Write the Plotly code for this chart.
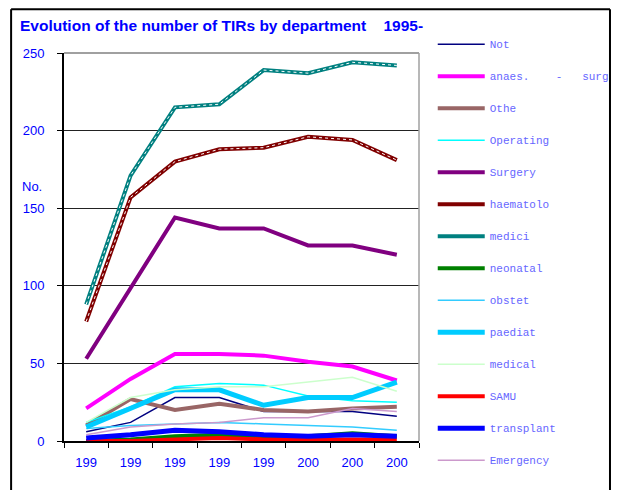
import plotly.graph_objects as go

years = ["1995", "1996", "1997", "1998", "1999", "2000", "2001", "2002"]
tick_text = ["199", "199", "199", "199", "199", "200", "200", "200"]

not_dept = [6, 12, 28, 28, 19, 19, 19, 16]
anaes_surg = [21, 40, 56, 56, 55, 51, 48, 39]
other = [10, 27, 20, 24, 20, 19, 21, 22]
operating_theatre = [12, 22, 35, 37, 36, 29, 26, 25]
surgery_transplant = [53, 99, 144, 137, 137, 126, 126, 120]
haematology = [77, 157, 180, 188, 189, 196, 194, 181]
medicine = [88, 171, 215, 217, 239, 237, 244, 242]
neonatal = [0, 1, 3, 4, 3, 3, 5, 3]
obstetrics = [8, 10, 11, 12, 11, 10, 9, 7]
paediatrics = [9, 21, 33, 33, 23, 28, 28, 38]
medical_icu = [12, 28, 33, 35, 35, 38, 41, 32]
samu = [0, 0, 1, 2, 1, 1, 1, 1]
transplant = [2, 4, 7, 6, 4, 3, 4, 3]
emergency = [4, 9, 11, 12, 15, 15, 21, 19]

sp = "\u00a0"
series = [
    ("Not", not_dept, "#000080", 1.5),
    ("anaes." + sp * 4 + "-" + sp * 3 + "surg", anaes_surg, "#FF00FF", 4),
    ("Othe", other, "#996666", 4),
    ("Operating", operating_theatre, "#00FFFF", 1.5),
    ("Surgery", surgery_transplant, "#800080", 4),
    ("haematolo", haematology, "#800000", 4),
    ("medici", medicine, "#008080", 4),
    ("neonatal", neonatal, "#008000", 4),
    ("obstet", obstetrics, "#33CCFF", 1.5),
    ("paediat", paediatrics, "#00CCFF", 5),
    ("medical", medical_icu, "#CCFFCC", 1.5),
    ("SAMU", samu, "#FF0000", 4),
    ("transplant", transplant, "#0000FF", 5),
    ("Emergency", emergency, "#CC99CC", 1.5),
]

fig = go.Figure()
for i, (name, vals, color, w) in enumerate(series):
    lg = "legend" if i < 7 else "legend2"
    fig.add_trace(go.Scatter(
        x=years, y=vals, name=name, mode="lines",
        line=dict(color=color, width=w),
        legendgroup="g%02d" % i, legend=lg,
    ))
    if name in ("haematolo", "medici"):
        fig.add_trace(go.Scatter(
            x=years, y=vals, mode="lines", showlegend=False,
            line=dict(color="white", width=1, dash="3px,3px"),
            legendgroup="g%02d" % i, legend=lg, hoverinfo="skip",
        ))

blue = "#0000FF"
shapes = [
    dict(type="line", xref="paper", yref="paper", x0=-0.149, x1=-0.149, y0=1.113, y1=-0.2,
         line=dict(color="black", width=2)),
    dict(type="line", xref="paper", yref="paper", x0=-0.149, x1=1.538, y0=1.113, y1=1.113,
         line=dict(color="black", width=2)),
    dict(type="line", xref="paper", yref="paper", x0=1.538, x1=1.538, y0=1.113, y1=-0.2,
         line=dict(color="black", width=2)),
    dict(type="line", xref="paper", yref="paper", x0=0, x1=1, y0=1, y1=1,
         line=dict(color="#808080", width=1.5)),
    dict(type="line", xref="paper", yref="paper", x0=1, x1=1, y0=0, y1=1,
         line=dict(color="#a0a0a0", width=1.5)),
]

W, H = 613, 482
legend_common = dict(
    x=0.0387 + 1, xanchor="left", xref="paper", yanchor="top", yref="container",
    font=dict(family="Liberation Mono, Courier New, monospace", size=11, color="#6666FF"),
    tracegroupgap=13, bgcolor="rgba(0,0,0,0)", traceorder="grouped", itemwidth=47,
)
fig.update_layout(
    width=W, height=H,
    margin=dict(l=56, r=202, t=45, b=49, autoexpand=False),
    paper_bgcolor="white", plot_bgcolor="white",
    title=dict(text="<b>Evolution of the number of TIRs by department" + sp * 4 + "1995-</b>",
               x=12 / W, xanchor="left", xref="container",
               y=1 - 18 / H, yanchor="middle", yref="container",
               font=dict(family="Arial, Liberation Sans", size=15.5, color=blue)),
    showlegend=True,
    legend=dict(y=1 - 21.7 / H, **legend_common),
    legend2=dict(y=1 - (21.7 + 7 * 32) / H, **legend_common),
    shapes=shapes,
    annotations=[dict(text="No.", x=-0.124, y=0.655, xref="paper", yref="paper",
                      showarrow=False, font=dict(family="Arial, Liberation Sans", size=13, color=blue))],
    xaxis=dict(type="category", range=[-0.5, 7.5], tickmode="array", tickvals=years,
               ticktext=tick_text, tickson="boundaries", ticks="outside", ticklen=5,
               tickcolor="black", showline=True, linecolor="black", linewidth=2,
               showgrid=False, zeroline=False, ticklabelstandoff=8,
               tickfont=dict(family="Arial, Liberation Sans", size=13, color=blue)),
    yaxis=dict(range=[0, 250], dtick=50, ticks="outside", ticklen=5, tickcolor="black",
               showline=True, linecolor="black", linewidth=2, showgrid=True,
               gridcolor="#222222", gridwidth=1, zeroline=False, ticklabelstandoff=10,
               tickfont=dict(family="Arial, Liberation Sans", size=13, color=blue)),
)

fig.write_html("out.html")
